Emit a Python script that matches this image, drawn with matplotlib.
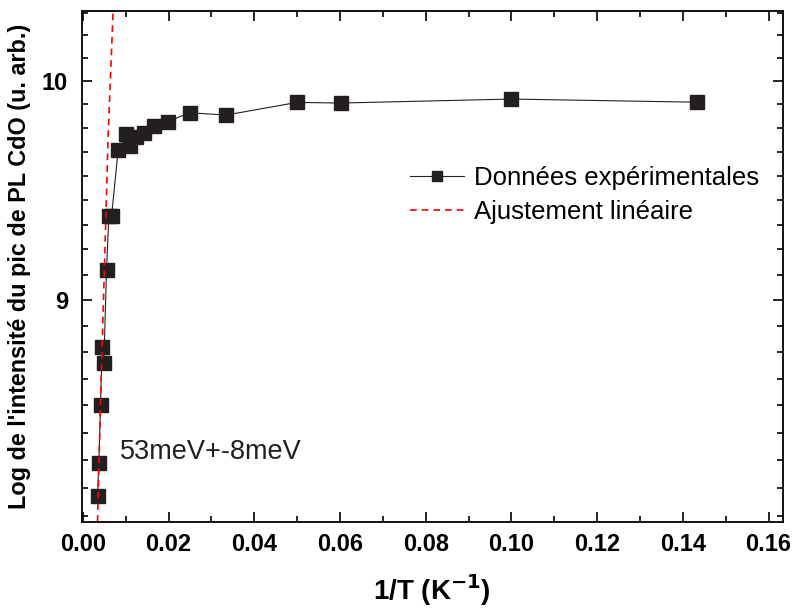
import matplotlib.pyplot as plt
import matplotlib.ticker as mticker
import numpy as np

# fuente tipo Arial
plt.rcParams['font.family'] = ['Liberation Sans', 'DejaVu Sans']

# datos: 1/T (K^-1) y intensidad PL
inv_t = [0.00343, 0.00373, 0.00413, 0.00450, 0.00490, 0.00553, 0.00607,
         0.00670, 0.00824, 0.00997, 0.01097, 0.01230, 0.01417, 0.01664,
         0.01991, 0.02490, 0.03340, 0.05000, 0.06020, 0.10000, 0.14330]
intensite = [8.19, 8.32, 8.556, 8.80, 8.73, 9.13, 9.37,
             9.37, 9.673, 9.747, 9.693, 9.736, 9.752, 9.787,
             9.807, 9.849, 9.838, 9.898, 9.895, 9.914, 9.899]

# ajuste lineal (trazo rojo)
fit_x = [0.00343, 0.00420, 0.00510, 0.00590, 0.00707]
fit_y = [8.09, 8.62, 9.18, 9.74, 10.343]

fig = plt.figure(figsize=(7.95, 6.14), dpi=100)
ax = fig.add_axes([0.1031, 0.1503, 0.8814, 0.8318])

ax.plot(inv_t, intensite, color='#222222', lw=0.8, marker='s', ms=10,
        mfc='#231f20', mec='#231f20', label='Données expérimentales')
ax.plot(fit_x, fit_y, color='red', lw=1.2, ls=(0, (4, 3)),
        label='Ajustement linéaire')

ax.set_yscale('log')
ax.set_xlim(-0.0002, 0.1633)
ax.set_ylim(8.09, 10.343)

ax.yaxis.set_major_locator(mticker.FixedLocator([9, 10]))
ax.yaxis.set_major_formatter(mticker.FixedFormatter(['9', '10']))
ax.yaxis.set_minor_locator(mticker.FixedLocator(
    [8 + k / 9 for k in range(1, 9)] + [9 + k / 9 for k in range(1, 9)]
    + [10 + k / 9 for k in range(1, 4)]))
ax.yaxis.set_minor_formatter(mticker.NullFormatter())

ax.xaxis.set_major_locator(mticker.MultipleLocator(0.02))
ax.xaxis.set_minor_locator(mticker.MultipleLocator(0.01))
ax.xaxis.set_major_formatter(mticker.FormatStrFormatter('%.2f'))

ax.tick_params(which='both', direction='in', top=True, right=True, width=1.2)
ax.tick_params(which='major', length=7)
ax.tick_params(which='minor', length=4)
ax.tick_params(axis='x', which='major', pad=8)
ax.tick_params(axis='y', which='major', pad=10)
for lab in ax.get_xticklabels() + ax.get_yticklabels():
    lab.set_fontsize(17)
    lab.set_fontweight('bold')
for s in ax.spines.values():
    s.set_linewidth(1.3)

ax.set_xlabel('1/T (K$^{\\mathbf{-1}}$)', fontsize=20, fontweight='bold',
              labelpad=12)
ax.set_ylabel("Log de l'intensité du pic de PL CdO (u. arb.)", fontsize=16.8,
              fontweight='bold', labelpad=8)

ax.text(0.00864, 8.365, '53meV+-8meV', fontsize=19.5, va='center',
        color='#231f20')

ax.legend(loc='upper left', bbox_to_anchor=(410 / 795, 1 - 166 / 614),
          bbox_transform=fig.transFigure, frameon=False, fontsize=18.5,
          borderpad=0, borderaxespad=0, handlelength=2.1,
          handletextpad=0.4, labelspacing=0.38, markerscale=0.75)

fig.savefig('out.png', dpi=100)
